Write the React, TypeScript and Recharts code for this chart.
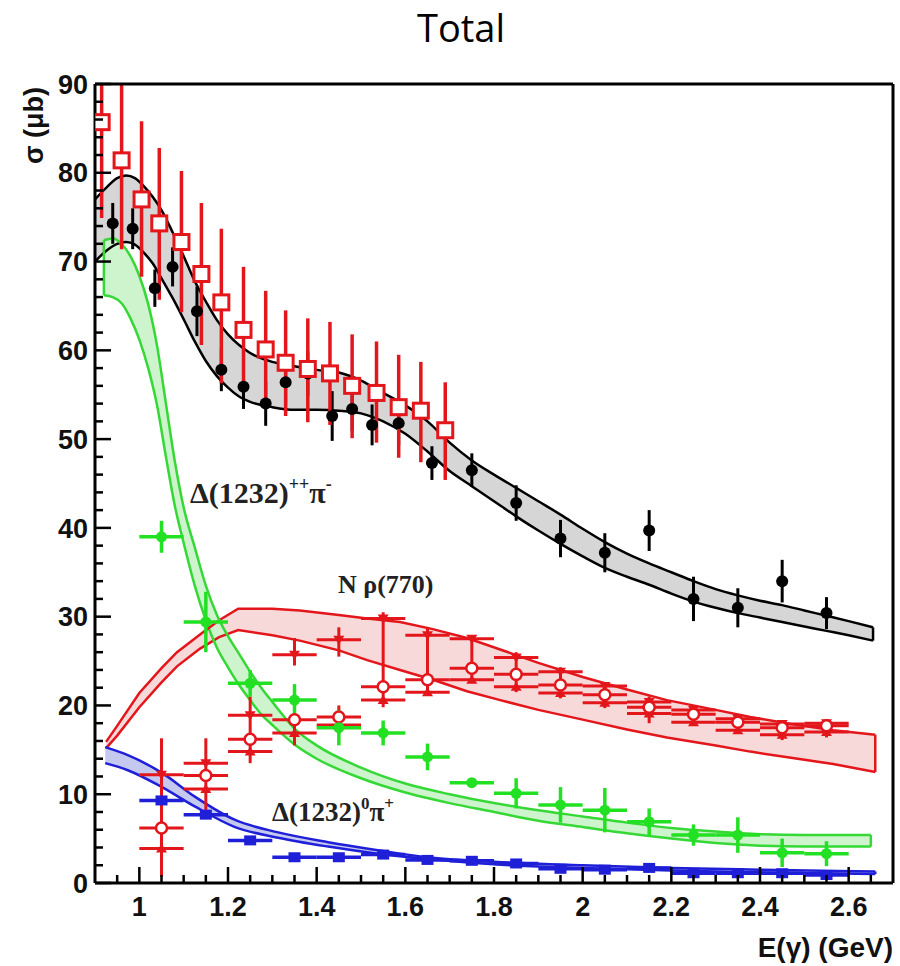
import React from 'react'
import { ComposedChart, Area, Line, Scatter, ErrorBar, XAxis, YAxis, ReferenceLine } from 'recharts'

const W = 900
const H = 966

// ---- model bands (x, lower edge, upper edge) ----
const totalBandX = [0.9, 0.925, 0.95, 0.97, 0.99, 1.01, 1.03, 1.05, 1.075, 1.1, 1.125, 1.15, 1.175, 1.2, 1.225, 1.25, 1.3, 1.35, 1.4, 1.45, 1.5, 1.55, 1.6, 1.65, 1.7, 1.75, 1.8, 1.85, 1.9, 1.95, 2.0, 2.05, 2.1, 2.15, 2.2, 2.25, 2.3, 2.35, 2.4, 2.45, 2.5, 2.55, 2.6, 2.655]
const totalBandLo = [70.0, 71.2, 72.0, 72.2, 71.9, 71.0, 69.8, 68.1, 65.9, 63.5, 61.0, 58.8, 57.1, 55.8, 54.8, 54.2, 53.6, 53.3, 53.3, 53.2, 52.9, 52.0, 50.6, 48.6, 46.4, 44.7, 43.0, 41.3, 39.7, 38.2, 36.8, 35.5, 34.5, 33.6, 32.6, 31.7, 31.0, 30.4, 29.9, 29.4, 28.9, 28.4, 27.9, 27.3]
const totalBandHi = [77.0, 78.3, 79.4, 79.7, 79.4, 78.5, 77.3, 75.8, 73.3, 70.6, 67.8, 65.5, 63.4, 61.8, 60.6, 59.7, 58.7, 58.2, 57.8, 57.5, 56.6, 55.2, 53.8, 52.0, 49.6, 47.6, 46.0, 44.5, 43.0, 41.5, 39.9, 38.4, 37.1, 36.0, 35.0, 34.0, 33.1, 32.4, 31.8, 31.3, 30.7, 30.1, 29.5, 28.8]

const deltaPPBandX = [0.92, 0.94, 0.96, 0.98, 1.0, 1.02, 1.04, 1.06, 1.08, 1.1, 1.125, 1.15, 1.175, 1.2, 1.225, 1.25, 1.275, 1.3, 1.35, 1.4, 1.5, 1.6, 1.7, 1.8, 1.9, 2.0, 2.1, 2.2, 2.3, 2.4, 2.5, 2.65]
const deltaPPBandLo = [66.2, 66.0, 65.3, 63.6, 61.2, 58.0, 53.8, 48.0, 42.5, 38.3, 33.5, 29.6, 26.5, 24.3, 22.3, 20.6, 19.0, 17.8, 15.6, 14.0, 11.8, 10.2, 9.0, 8.0, 7.0, 6.3, 5.6, 5.0, 4.5, 4.2, 4.1, 4.1]
const deltaPPBandHi = [72.4, 72.6, 72.0, 70.6, 68.4, 65.2, 60.5, 54.0, 47.5, 42.3, 37.8, 33.5, 30.2, 27.8, 25.8, 23.8, 22.0, 20.4, 17.4, 15.5, 13.0, 11.2, 10.0, 9.0, 8.2, 7.5, 6.8, 6.2, 5.8, 5.5, 5.4, 5.4]

const rhoBandX = [0.925, 0.95, 1.0, 1.05, 1.085, 1.137, 1.18, 1.223, 1.3, 1.362, 1.45, 1.514, 1.588, 1.662, 1.739, 1.814, 1.9, 2.0, 2.1, 2.19, 2.3, 2.378, 2.47, 2.565, 2.66]
const rhoBandLo = [15.2, 16.6, 19.8, 22.6, 24.4, 26.4, 27.7, 28.5, 27.9, 27.3, 26.2, 25.1, 24.0, 22.9, 21.6, 20.6, 19.5, 18.4, 17.3, 16.4, 15.5, 14.8, 14.1, 13.4, 12.5]
const rhoBandHi = [15.9, 17.7, 21.4, 24.2, 26.0, 28.0, 29.6, 30.9, 30.9, 30.7, 30.2, 29.8, 29.4, 28.6, 27.6, 26.3, 24.8, 23.2, 21.8, 20.6, 19.5, 18.7, 17.9, 17.2, 16.7]

const delta0BandX = [0.923, 0.974, 1.051, 1.126, 1.216, 1.313, 1.426, 1.538, 1.651, 1.8, 2.0, 2.2, 2.4, 2.66]
const delta0BandLo = [13.5, 12.7, 10.8, 8.6, 6.3, 5.1, 4.1, 3.3, 2.7, 2.1, 1.7, 1.4, 1.2, 1.0]
const delta0BandHi = [15.3, 14.4, 12.4, 9.7, 7.1, 5.7, 4.6, 3.7, 2.9, 2.4, 2.0, 1.7, 1.5, 1.3]

// ---- measured points ----
const totalX = [0.94, 0.985, 1.035, 1.075, 1.13, 1.185, 1.235, 1.285, 1.33, 1.38, 1.435, 1.48, 1.525, 1.585, 1.66, 1.75, 1.85, 1.95, 2.05, 2.15, 2.25, 2.35, 2.45, 2.55]
const totalY = [74.3, 73.7, 67.0, 69.4, 64.4, 57.8, 55.9, 54.0, 56.4, 57.4, 52.6, 53.4, 51.6, 51.8, 47.3, 46.5, 42.8, 38.8, 37.2, 39.7, 32.0, 31.0, 34.0, 30.4]
const totalErr = [2.3, 2.3, 2.1, 2.2, 2.8, 2.4, 2.5, 2.5, 2.5, 2.5, 2.8, 2.5, 2.3, 2.5, 1.9, 1.9, 2.0, 2.1, 2.2, 2.3, 2.5, 2.2, 2.4, 1.8]

const oldTotalX = [0.915, 0.96, 1.005, 1.045, 1.095, 1.14, 1.185, 1.235, 1.285, 1.33, 1.38, 1.43, 1.48, 1.535, 1.585, 1.635, 1.69]
const oldTotalY = [85.7, 81.4, 77.0, 74.3, 72.2, 68.6, 65.4, 62.3, 60.1, 58.6, 57.9, 57.4, 56.0, 55.2, 53.6, 53.2, 51.0]
const oldTotalErrLo = [10.8, 10.0, 8.7, 8.6, 7.9, 8.0, 9.1, 7.0, 6.6, 6.0, 6.0, 5.8, 5.9, 5.6, 5.7, 5.8, 5.6]
const oldTotalErrHi = [4.3, 8.6, 8.8, 8.5, 8.0, 8.0, 8.3, 7.1, 6.6, 5.9, 5.7, 5.8, 5.8, 5.8, 5.9, 5.5, 5.4]

const binX = [1.05, 1.15, 1.25, 1.35, 1.45, 1.55, 1.65, 1.75, 1.85, 1.95, 2.05, 2.15, 2.25, 2.35, 2.45, 2.55]
const binHalfWidth = 0.05

const deltaPPY = [39.0, 29.4, 22.5, 20.6, 17.5, 16.9, 14.2, 11.3, 10.1, 8.8, 8.2, 6.9, 5.4, 5.4, 3.4, 3.3]
const deltaPPErr = [1.8, 3.4, 1.5, 1.8, 2.0, 1.4, 1.5, 0.5, 1.7, 2.0, 2.5, 1.5, 1.2, 2.0, 1.6, 1.4]

const rhoHi = [12.2, 13.5, 18.9, 25.7, 27.4, 29.8, 27.9, 27.5, 25.4, 23.8, 22.2, 20.4, 19.5, 18.5, 17.9, 18.0]
const rhoHiErrDn = [0, 0, 0, 1.2, 1.9, 0, 0, 0, 0, 0, 0, 0, 0, 0, 0, 0]
const rhoHiErrUp = [0, 0, 0, 1.9, 1.4, 0, 0, 0, 0, 0, 0, 0, 0, 0, 0, 0]
const rhoMid = [6.2, 12.1, 16.2, 18.4, 18.7, 22.1, 22.9, 24.2, 23.5, 22.3, 21.2, 19.8, 19.0, 18.1, 17.5, 17.7]
const rhoLo = [3.9, 10.6, 14.8, 16.9, 17.8, 20.6, 21.5, 22.9, 22.1, 21.4, 20.3, 19.1, 18.1, 17.2, 16.7, 17.0]
const rhoBarTop = [16.3, 16.3, 21.0, 19.8, 20.0, 30.5, 28.7, 27.9, 26.0, 24.3, 22.6, 21.0, 19.8, 18.7, 18.0, 18.4]
const rhoBarBot = [0.7, 7.9, 13.5, 15.5, 16.8, 19.8, 21.2, 22.5, 21.5, 20.8, 19.7, 18.0, 17.8, 16.9, 16.1, 16.4]

const delta0Y = [9.3, 7.7, 4.8, 2.9, 2.9, 3.2, 2.6, 2.5, 2.2, 1.6, 1.5, 1.7, 1.1, 1.1, 1.1, 0.9]
const delta0Err = [0.5, 0.5, 0.4, 0.4, 0.4, 0.4, 0.4, 0.4, 0.4, 0.3, 0.3, 0.3, 0.3, 0.3, 0.3, 0.3]

// axis ticks (minor every 2 µb / 0.05 GeV)
const yTicks = Array.from({ length: 46 }, (_, i) => i * 2)
const xTicks = Array.from({ length: 35 }, (_, i) => +(0.95 + i * 0.05).toFixed(2))

const BLACK = '#000000'
const RED = '#e3161c'
const GREEN = '#22e022'
const BLUE = '#1f1fd8'

function band(xs: number[], lo: number[], hi: number[]) {
  return xs.map((x, i) => ({ x, lo: lo[i], hi: hi[i], range: [lo[i], hi[i]] }))
}

const totalBand = band(totalBandX, totalBandLo, totalBandHi)
const deltaPPBand = band(deltaPPBandX, deltaPPBandLo, deltaPPBandHi)
const rhoBand = band(rhoBandX, rhoBandLo, rhoBandHi)
const delta0Band = band(delta0BandX, delta0BandLo, delta0BandHi)

const totalPts = totalX.map((x, i) => ({ x, y: totalY[i], ey: totalErr[i] }))
const oldTotalPts = oldTotalX.map((x, i) => ({ x, y: oldTotalY[i], ey: [oldTotalErrLo[i], oldTotalErrHi[i]] }))
const deltaPPPts = binX.map((x, i) => ({ x, y: deltaPPY[i], ey: deltaPPErr[i], ex: binHalfWidth }))
const rhoMidPts = binX.map((x, i) => ({ x, y: rhoMid[i], ex: binHalfWidth, ey: [rhoMid[i] - rhoBarBot[i], rhoBarTop[i] - rhoMid[i]] }))
const rhoHiPts = binX.map((x, i) => ({ x, y: rhoHi[i], ex: binHalfWidth, ey: [rhoHiErrDn[i], rhoHiErrUp[i]] }))
const rhoLoPts = binX.map((x, i) => ({ x, y: rhoLo[i], ex: binHalfWidth }))
const delta0Pts = binX.map((x, i) => ({ x, y: delta0Y[i], ey: delta0Err[i], ex: binHalfWidth }))

const tickFont = { fontFamily: '"Liberation Sans", Arial, sans-serif', fontWeight: 700, fontSize: 27, fill: '#111' }

function YTick(props: any) {
  const { x, y, payload } = props
  const v = payload.value
  const major = v % 10 === 0
  return (
    <g>
      <line x1={x} y1={y} x2={x + (major ? 16 : 8)} y2={y} stroke={BLACK} strokeWidth={2.5} />
      {major && <text x={x - 7} y={y} dy="0.36em" textAnchor="end" {...tickFont}>{v}</text>}
    </g>
  )
}

function XTick(props: any) {
  const { x, y, payload } = props
  const v = payload.value as number
  const major = Math.abs(v * 5 - Math.round(v * 5)) < 1e-6
  return (
    <g>
      <line x1={x} y1={y} x2={x} y2={y - (major ? 16 : 8)} stroke={BLACK} strokeWidth={2.5} />
      {major && <text x={x} y={y + 33} textAnchor="middle" {...tickFont}>{String(v)}</text>}
    </g>
  )
}

const dotShape = (r: number, color: string) => (p: any) => <circle cx={p.cx} cy={p.cy} r={r} fill={color} />
const openSquare = (p: any) => <rect x={p.cx - 7.5} y={p.cy - 7.5} width={15} height={15} fill="#fff" stroke={RED} strokeWidth={3} />
const openCircle = (p: any) => <circle cx={p.cx} cy={p.cy} r={5.5} fill="#fff" stroke={RED} strokeWidth={2.5} />
const downTri = (p: any) => <path d={`M${p.cx - 5.5},${p.cy - 4} L${p.cx + 5.5},${p.cy - 4} L${p.cx},${p.cy + 5} Z`} fill={RED} />
const upTri = (p: any) => <path d={`M${p.cx - 5.5},${p.cy + 4} L${p.cx + 5.5},${p.cy + 4} L${p.cx},${p.cy - 5} Z`} fill={RED} />
const filledSquare = (p: any) => <rect x={p.cx - 6} y={p.cy - 5} width={12} height={10} fill={BLUE} />

export default function App() {
  const bands = [
    { key: 'total', data: totalBand, fill: '#d6d6d6', stroke: BLACK, type: 'monotone' },
    { key: 'rho', data: rhoBand, fill: '#f7d9d9', stroke: RED, type: 'linear' },
    { key: 'dpp', data: deltaPPBand, fill: '#cdf4cd', stroke: '#35d835', type: 'monotone' },
    { key: 'd0', data: delta0Band, fill: '#c6c9ef', stroke: BLUE, type: 'monotone' },
  ]
  return (
    <div style={{ position: 'absolute', left: 0, top: 0, width: W, height: H, background: '#fff' }}>
      <ComposedChart width={W} height={H} margin={{ top: 84, right: 7, bottom: 33, left: 35 }}>
        <XAxis dataKey="x" type="number" domain={[0.9, 2.7]} allowDataOverflow ticks={xTicks} interval={0}
          height={50} tickSize={0} tickMargin={0} tickLine={false} tick={<XTick />}
          axisLine={{ stroke: BLACK, strokeWidth: 3 }} />
        <YAxis type="number" domain={[0, 90]} allowDataOverflow ticks={yTicks} interval={0}
          width={60} tickSize={0} tickMargin={0} tickLine={false} tick={<YTick />}
          axisLine={{ stroke: BLACK, strokeWidth: 3 }} />

        {bands.map(b => (
          <Area key={b.key + 'a'} data={b.data} dataKey="range" type={b.type as any} fill={b.fill} fillOpacity={1}
            stroke="none" isAnimationActive={false} />
        ))}
        {bands.map(b => (
          <Line key={b.key + 'l'} data={b.data} dataKey="lo" type={b.type as any} stroke={b.stroke} strokeWidth={2.5}
            dot={false} isAnimationActive={false} />
        ))}
        {bands.map(b => (
          <Line key={b.key + 'h'} data={b.data} dataKey="hi" type={b.type as any} stroke={b.stroke} strokeWidth={2.5}
            dot={false} isAnimationActive={false} />
        ))}
        {bands.map(b => {
          const last = b.data[b.data.length - 1]
          return <ReferenceLine key={b.key + 'e'} segment={[{ x: last.x, y: last.lo }, { x: last.x, y: last.hi }]}
            stroke={b.stroke} strokeWidth={2.5} />
        })}
        <ReferenceLine segment={[{ x: deltaPPBand[0].x, y: deltaPPBand[0].lo }, { x: deltaPPBand[0].x, y: deltaPPBand[0].hi }]}
          stroke="#35d835" strokeWidth={2.5} />

        <Scatter data={totalPts} dataKey="y" shape={dotShape(6, BLACK)} isAnimationActive={false}>
          <ErrorBar dataKey="ey" direction="y" width={0} stroke={BLACK} strokeWidth={3} />
        </Scatter>
        <Scatter data={oldTotalPts} dataKey="y" shape={openSquare} isAnimationActive={false}>
          <ErrorBar dataKey="ey" direction="y" width={0} stroke={RED} strokeWidth={3.5} />
        </Scatter>

        <Scatter data={rhoHiPts} dataKey="y" shape={downTri} isAnimationActive={false}>
          <ErrorBar dataKey="ex" direction="x" width={0} stroke={RED} strokeWidth={3} />
          <ErrorBar dataKey="ey" direction="y" width={0} stroke={RED} strokeWidth={3} />
        </Scatter>
        <Scatter data={rhoLoPts} dataKey="y" shape={upTri} isAnimationActive={false}>
          <ErrorBar dataKey="ex" direction="x" width={0} stroke={RED} strokeWidth={3} />
        </Scatter>
        <Scatter data={rhoMidPts} dataKey="y" shape={openCircle} isAnimationActive={false}>
          <ErrorBar dataKey="ex" direction="x" width={0} stroke={RED} strokeWidth={3} />
          <ErrorBar dataKey="ey" direction="y" width={0} stroke={RED} strokeWidth={3} />
        </Scatter>

        <Scatter data={deltaPPPts} dataKey="y" shape={dotShape(5.5, GREEN)} isAnimationActive={false}>
          <ErrorBar dataKey="ex" direction="x" width={0} stroke={GREEN} strokeWidth={3.5} />
          <ErrorBar dataKey="ey" direction="y" width={0} stroke={GREEN} strokeWidth={3.5} />
        </Scatter>
        <Scatter data={delta0Pts} dataKey="y" shape={filledSquare} isAnimationActive={false}>
          <ErrorBar dataKey="ex" direction="x" width={0} stroke={BLUE} strokeWidth={3.5} />
          <ErrorBar dataKey="ey" direction="y" width={0} stroke={BLUE} strokeWidth={3} />
        </Scatter>

        <ReferenceLine y={90} stroke={BLACK} strokeWidth={3} />
        <ReferenceLine x={2.7} stroke={BLACK} strokeWidth={3} />
      </ComposedChart>

      <svg width={W} height={H} style={{ position: 'absolute', left: 0, top: 0, pointerEvents: 'none' }}>
        <text x={461} y={42} textAnchor="middle" fontFamily='"Open Sans", sans-serif' fontSize={38} fill="#000">Total</text>
        <text x={-87} y={43} transform="rotate(-90)" textAnchor="end" fontFamily='"Liberation Sans", Arial, sans-serif'
          fontWeight={700} fontSize={27} fill="#111">σ (μb)</text>
        <text x={893} y={957} textAnchor="end" fontFamily='"Liberation Sans", Arial, sans-serif'
          fontWeight={700} fontSize={28} fill="#111">E(γ) (GeV)</text>

        <g fontFamily='"Liberation Serif", "Times New Roman", serif' fontWeight={700} fill="#222">
          <text x={190} y={503} fontSize={30}>
            Δ(1232)<tspan dy={-13} fontSize={18}>++</tspan><tspan dy={13} fontSize={30}>π</tspan><tspan dy={-13} fontSize={18}>-</tspan>
          </text>
          <text x={338} y={593} fontSize={26}>N ρ(770)</text>
          <text x={272} y={821} fontSize={27}>
            Δ(1232)<tspan dy={-12} fontSize={17}>0</tspan><tspan dy={12} fontSize={27}>π</tspan><tspan dy={-12} fontSize={17}>+</tspan>
          </text>
        </g>
      </svg>
    </div>
  )
}
